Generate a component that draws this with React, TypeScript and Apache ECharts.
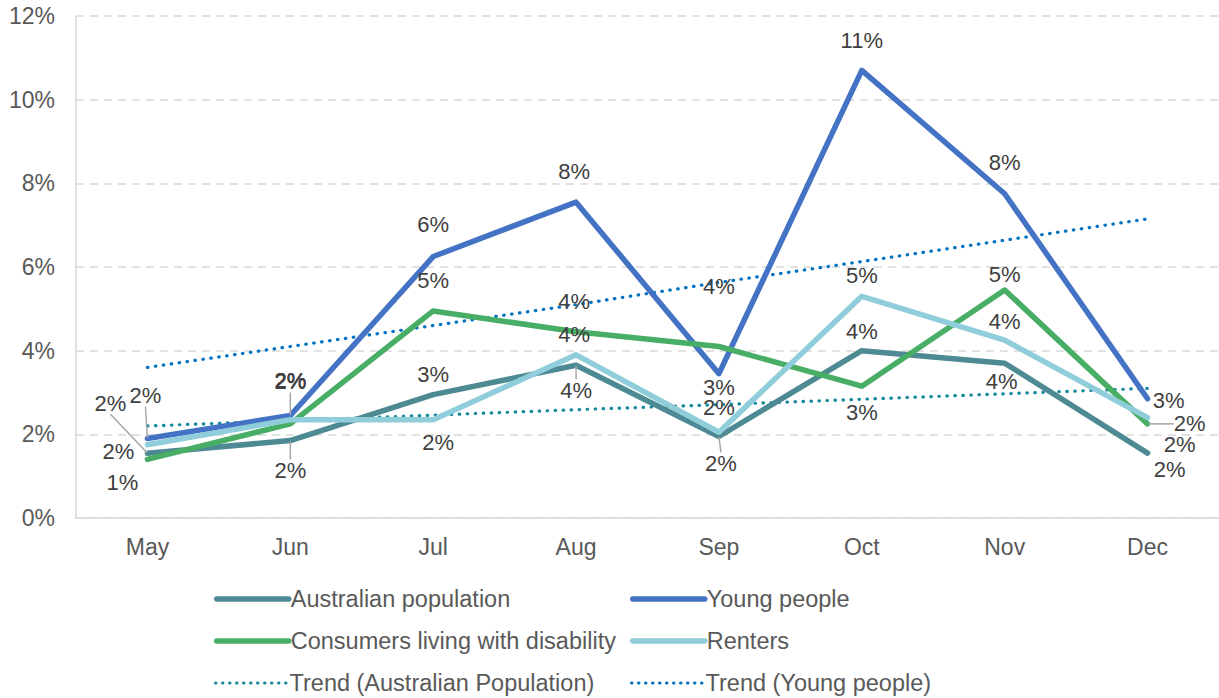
import React, { useEffect, useRef } from "react";
import * as echarts from "echarts";

const months = ["May", "Jun", "Jul", "Aug", "Sep", "Oct", "Nov", "Dec"];
const australianPopulation = [1.55, 1.85, 2.95, 3.65, 1.95, 4.0, 3.7, 1.55];
const youngPeople = [1.9, 2.45, 6.25, 7.55, 3.45, 10.7, 7.75, 2.85];
const consumersDisability = [1.4, 2.25, 4.95, 4.45, 4.1, 3.15, 5.45, 2.25];
const renters = [1.75, 2.35, 2.35, 3.9, 2.05, 5.3, 4.25, 2.4];
const trendAustralian = [2.2, 2.33, 2.46, 2.59, 2.71, 2.84, 2.97, 3.1];
const trendYoung = [3.6, 4.1, 4.6, 5.1, 5.63, 6.13, 6.64, 7.15];
const yTicks = [0, 2, 4, 6, 8, 10, 12];

// label offsets [dx, dy, leader]
const ausOff: [number, number, boolean][] = [[-37, -50, true], [0, 30, true], [0, -20, false], [0, 25, true], [2, 27, true], [0, -19, false], [-3, 18, false], [22, 16, false]];
const youngOff: [number, number, boolean][] = [[-2, -43, true], [0, -34, true], [0, -32, false], [-2, -31, false], [0, 14, false], [0, -30, false], [0, -31, false], [21, 2, false]];
const greenOff: [number, number, boolean][] = [[-25, 23, false], [0, -43, false], [0, -30, false], [-2, -30, false], [0, -60, false], [0, 26, false], [0, -16, false], [42, 0, true]];
const rentersOff: [number, number, boolean][] = [[-29, 7, false], [0, -39, false], [5, 23, false], [-2, -20, false], [0, -25, false], [0, -21, false], [0, -19, false], [32, 27, false]];

const FONT = "Liberation Sans, Arial, sans-serif";

export default function App() {
  const ref = useRef<HTMLDivElement>(null);
  useEffect(() => {
    if (!ref.current) return;
    const chart = echarts.init(ref.current, null, { renderer: "svg" });
    const offs = [ausOff, youngOff, greenOff, rentersOff];
    const mk = (name: string, vals: number[], color: string, off: [number, number, boolean][]) => ({
      name,
      type: "line",
      data: vals.map((v, i) => ({
        value: v,
        labelLine: { show: off[i][2], lineStyle: { color: "#A6A6A6", width: 1.5 } },
      })),
      symbol: "circle",
      symbolSize: 1,
      itemStyle: { color },
      lineStyle: { color, width: 5.5, cap: "round", join: "round" },
      label: {
        show: true,
        position: "inside",
        formatter: (p: any) => Math.round(p.value) + "%",
        color: "#404040",
        fontSize: 22,
        fontFamily: FONT,
      },
      labelLine: { show: false },
      z: 3,
    });
    const trend = (name: string, vals: number[], color: string) => ({
      name,
      type: "line",
      data: vals,
      symbol: "none",
      itemStyle: { color },
      lineStyle: { color, width: 3.2, type: [0.5, 7.5], cap: "round" },
      z: 2,
    });
    const leg = (name: string, left: number, top: number, dotted: boolean) => ({
      orient: "horizontal",
      left,
      top,
      itemWidth: 72,
      itemHeight: 14,
      itemStyle: { opacity: 0 },
      lineStyle: dotted ? { width: 3, type: [0.5, 6.5], cap: "round" } : { width: 5.5, cap: "round" },
      textStyle: { color: "#595959", fontSize: 23.5, fontFamily: FONT, padding: [0, 0, 0, -3] },
      data: [name],
    });
    chart.setOption({
      animation: false,
      textStyle: { fontFamily: FONT },
      grid: { left: 76, right: 0, top: 16, bottom: 180, containLabel: false },
      xAxis: {
        type: "category",
        data: months,
        boundaryGap: true,
        axisLine: { show: true, lineStyle: { color: "#D9D9D9", width: 1.5 } },
        axisTick: { show: false },
        axisLabel: { color: "#595959", fontSize: 23, fontFamily: FONT, margin: 17 },
      },
      yAxis: {
        type: "value",
        min: yTicks[0],
        max: yTicks[yTicks.length - 1],
        interval: 2,
        axisLine: { show: true, lineStyle: { color: "#D9D9D9", width: 1.5 } },
        axisTick: { show: false },
        splitLine: { lineStyle: { color: "#D9D9D9", type: [8, 6], width: 1.5 } },
        axisLabel: { color: "#595959", fontSize: 23, fontFamily: FONT, margin: 21, formatter: (v: number) => v + "%" },
      },
      legend: [
        leg("Australian population", 209, 582, false),
        leg("Consumers living with disability", 209, 624, false),
        leg("Trend (Australian Population)", 209, 666, true),
        leg("Young people", 625, 582, false),
        leg("Renters", 625, 624, false),
        leg("Trend (Young people)", 625, 666, true),
      ],
      labelLayout: (params: any) => {
        const o = offs[params.seriesIndex];
        if (!o) return {};
        const d = o[params.dataIndex];
        return { dx: d[0], dy: d[1] };
      },
      series: [
        mk("Australian population", australianPopulation, "#4E8A93", ausOff),
        mk("Young people", youngPeople, "#4472C4", youngOff),
        mk("Consumers living with disability", consumersDisability, "#48AE66", greenOff),
        mk("Renters", renters, "#8ECDD9", rentersOff),
        trend("Trend (Australian Population)", trendAustralian, "#13899A"),
        trend("Trend (Young people)", trendYoung, "#0070C0"),
      ],
    });
    return () => chart.dispose();
  }, []);
  return <div ref={ref} style={{ width: 1219, height: 698, position: "absolute", left: 0, top: 0, background: "#fff" }} />;
}
